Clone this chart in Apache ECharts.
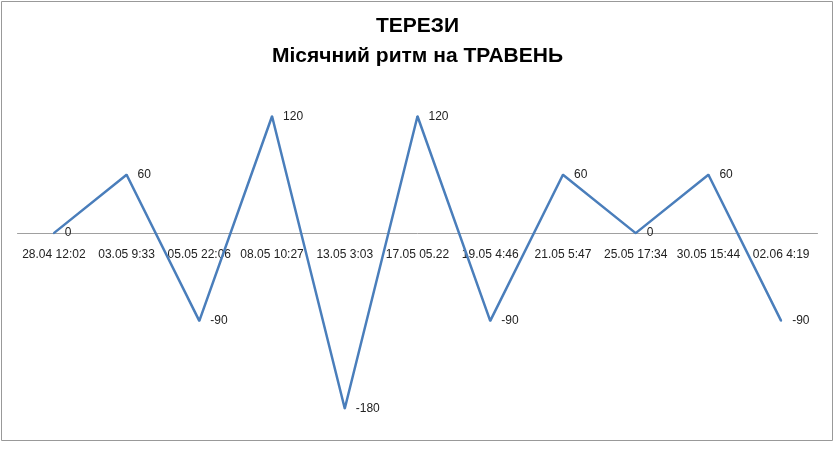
<!DOCTYPE html>
<html><head><meta charset="utf-8">
<script src="https://cdn.jsdelivr.net/npm/echarts@6/dist/echarts.min.js"></script>
<style>html,body{margin:0;padding:0;background:#fff}#c{width:835px;height:463px}</style>
</head><body><div id="c"></div>
<script>
var categories = ['28.04 12:02','03.05 9:33','05.05 22:06','08.05 10:27','13.05 3:03','17.05 05.22','19.05 4:46','21.05 5:47','25.05 17:34','30.05 15:44','02.06 4:19'];
var values = [0, 60, -90, 120, -180, 120, -90, 60, 0, 60, -90];
var titleLines = ['ТЕРЕЗИ', 'Місячний ритм на ТРАВЕНЬ'];

var yMin = -200, yMax = 150, gridH = 341;
var zeroOffset = -(0 - yMin) / (yMax - yMin) * gridH;

var chart = echarts.init(document.getElementById('c'));
chart.setOption({
  animation: false,
  title: {
    text: titleLines.join('\n'),
    left: 'center', top: 6,
    textStyle: { fontFamily: 'Liberation Sans Narrow, Liberation Sans', fontWeight: 'bold', fontSize: 21, lineHeight: 30, color: '#000' }
  },
  graphic: [{ type: 'rect', shape: { x: 1.5, y: 1.5, width: 831, height: 439 }, style: { fill: 'none', stroke: '#999', lineWidth: 1 }, silent: true }],
  grid: { left: 17.5, right: 17.5, top: 87, height: gridH },
  xAxis: {
    type: 'category', data: categories, boundaryGap: true, position: 'bottom', offset: zeroOffset,
    axisLine: { onZero: false, lineStyle: { color: '#a0a0a0', width: 1 } },
    axisTick: { show: false },
    axisLabel: { interval: 0, color: '#222', fontFamily: 'Liberation Sans', fontSize: 12, margin: 16 }
  },
  yAxis: {
    type: 'value', min: yMin, max: yMax, interval: 50,
    axisLine: { show: false }, axisTick: { show: false }, axisLabel: { show: false },
    splitLine: { show: false }
  },
  series: [{
    type: 'line', data: values, symbol: 'circle', symbolSize: 2, showSymbol: true,
    itemStyle: { color: '#4a7ebb' },
    lineStyle: { color: '#4a7ebb', width: 2.5 },
    label: { show: true, position: 'right', distance: 10, color: '#222', fontFamily: 'Liberation Sans', fontSize: 12 }
  }]
});
</script></body></html>
